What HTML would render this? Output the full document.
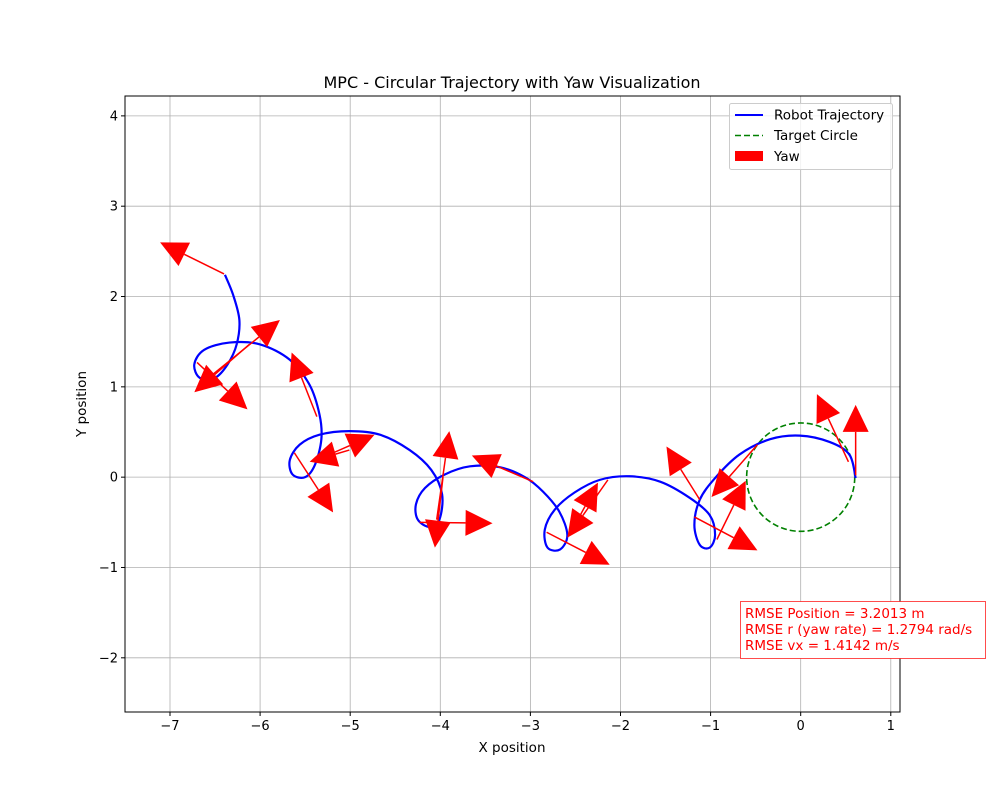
<!DOCTYPE html>
<html><head><meta charset="utf-8"><style>
body{margin:0;background:#fff;font-family:"DejaVu Sans","Liberation Sans",sans-serif;}
svg text{font-family:"DejaVu Sans","Liberation Sans",sans-serif;}
</style></head><body>
<svg id="chart" width="1000" height="800" viewBox="0 0 1000 800" xmlns="http://www.w3.org/2000/svg">
<rect width="1000" height="800" fill="#fff"/>
<g id="grid"></g>
<g id="series"></g>
<g id="axes"></g>
<text x="512" y="88" text-anchor="middle" font-size="16">MPC - Circular Trajectory with Yaw Visualization</text>
<text x="512" y="752" text-anchor="middle" font-size="13.5">X position</text>
<text x="86" y="404" text-anchor="middle" font-size="13.5" transform="rotate(-90 86 404)">Y position</text>
<g>
<rect x="729.5" y="103.5" width="163" height="66" rx="2" fill="#fff" fill-opacity="0.8" stroke="#ccc"/>
<g><line x1="735" y1="115" x2="763" y2="115" stroke="#0000ff" stroke-width="2"/><text x="774" y="119.5" font-size="13.5">Robot Trajectory</text></g>
<g><line x1="735" y1="135.5" x2="763" y2="135.5" stroke="#008000" stroke-width="1.6" stroke-dasharray="6,3"/><text x="774" y="140" font-size="13.5">Target Circle</text></g>
<g><rect x="735" y="151" width="28" height="10" fill="#ff0000"/><text x="774" y="161" font-size="13.5">Yaw</text></g>
</g>
<g>
<rect x="740.5" y="601.5" width="245" height="57" fill="#fff" stroke="#ff0000" stroke-opacity="0.7"/>
<text x="745" y="618" font-size="13.5" fill="#ff0000">RMSE Position = 3.2013 m</text>
<text x="745" y="634" font-size="13.5" fill="#ff0000">RMSE r (yaw rate) = 1.2794 rad/s</text>
<text x="745" y="650" font-size="13.5" fill="#ff0000">RMSE vx = 1.4142 m/s</text>
</g>
</svg>
<script>
const xTicks=[-7,-6,-5,-4,-3,-2,-1,0,1];
const yTicks=[-2,-1,0,1,2,3,4];
const trajX=[-6.39,-6.30,-6.23,-6.26,-6.36,-6.50,-6.67,-6.73,-6.62,-6.34,-6.00,-5.67,-5.45,-5.34,-5.32,-5.39,-5.50,-5.64,-5.67,-5.56,-5.34,-5.01,-4.67,-4.34,-4.10,-3.98,-4.01,-4.12,-4.25,-4.27,-4.17,-3.95,-3.67,-3.34,-3.06,-2.86,-2.68,-2.59,-2.67,-2.81,-2.84,-2.73,-2.51,-2.23,-1.90,-1.56,-1.23,-1.01,-0.95,-1.01,-1.12,-1.18,-1.12,-0.95,-0.68,-0.34,-0.01,0.32,0.54,0.61];
const trajY=[2.24,2.02,1.74,1.47,1.25,1.10,1.10,1.25,1.41,1.49,1.47,1.30,1.02,0.69,0.42,0.14,0.00,0.03,0.19,0.36,0.47,0.51,0.47,0.30,0.08,-0.19,-0.47,-0.55,-0.47,-0.30,-0.12,0.03,0.12,0.11,0.00,-0.16,-0.38,-0.64,-0.80,-0.78,-0.58,-0.36,-0.17,-0.03,0.01,-0.05,-0.23,-0.42,-0.64,-0.78,-0.75,-0.53,-0.25,-0.01,0.25,0.42,0.46,0.39,0.25,-0.01];
const yawX=[-6.40,-6.56,-6.12,-6.70,-5.37,-5.62,-5.01,-5.37,-4.04,-3.97,-4.23,-2.97,-2.14,-2.49,-2.82,-1.12,-0.48,-0.93,-1.18,0.53,0.61];
const yawY=[2.25,1.11,1.47,1.27,0.67,0.27,0.30,0.19,-0.47,0.0,-0.50,-0.05,-0.03,-0.50,-0.61,-0.25,0.36,-0.69,-0.44,0.17,0.02];
const yawDX=[-0.71,0.78,-0.61,0.56,-0.28,0.43,-0.44,0.64,0.14,-0.09,0.81,-0.68,-0.45,0.24,0.70,-0.37,-0.51,0.32,0.70,-0.35,0];
const yawDY=[0.35,0.63,-0.53,-0.52,0.71,-0.66,-0.13,0.28,0.98,-0.78,-0.01,0.29,-0.64,0.44,-0.36,0.59,-0.58,0.65,-0.37,0.75,0.78];
const circleR=0.6;
const X0=125,X1=900,Y0=96,Y1=712,xmin=-7.4994,xmax=1.1022,ymin=-2.6,ymax=4.22;
const sx=v=>X0+(v-xmin)/(xmax-xmin)*(X1-X0);
const sy=v=>Y1-(v-ymin)/(ymax-ymin)*(Y1-Y0);
const NS="http://www.w3.org/2000/svg";
function mk(tag,attrs,parent){const e=document.createElementNS(NS,tag);for(const k in attrs)e.setAttribute(k,attrs[k]);parent.appendChild(e);return e;}
const grid=document.getElementById('grid'),axes=document.getElementById('axes'),series=document.getElementById('series');
xTicks.forEach(t=>{const x=sx(t);
 const g=mk('line',{x1:x,x2:x,y1:Y0,y2:Y1,stroke:'#b0b0b0','stroke-width':0.8},grid);
 
 
 mk('line',{x1:x,x2:x,y1:Y1,y2:Y1+4,stroke:'#000'},axes);
 const tx=mk('text',{x:x,y:Y1+18,'text-anchor':'middle','font-size':13},axes);tx.textContent=t<0?'\u2212'+(-t):t;
 
 });
yTicks.forEach(t=>{const y=sy(t);
 const g=mk('line',{x1:X0,x2:X1,y1:y,y2:y,stroke:'#b0b0b0','stroke-width':0.8},grid);
 
 
 mk('line',{x1:X0-4,x2:X0,y1:y,y2:y,stroke:'#000'},axes);
 const tx=mk('text',{x:X0-7,y:y+4.5,'text-anchor':'end','font-size':13},axes);tx.textContent=t<0?'\u2212'+(-t):t;
 
 });
const fr=mk('rect',{x:X0,y:Y0,width:X1-X0,height:Y1-Y0,fill:'none',stroke:'#000','stroke-width':1},axes);


const circ=mk('ellipse',{cx:sx(0),cy:sy(0),rx:sx(circleR)-sx(0),ry:sy(0)-sy(circleR),fill:'none',stroke:'#008000','stroke-width':1.6,'stroke-dasharray':'6,3'},series);


const P=trajX.map((v,i)=>[sx(v),sy(trajY[i])]);
let d='M'+P[0][0]+','+P[0][1];
for(let i=0;i<P.length-1;i++){const p0=P[Math.max(i-1,0)],p1=P[i],p2=P[i+1],p3=P[Math.min(i+2,P.length-1)];
 d+=' C'+(p1[0]+(p2[0]-p0[0])/6)+','+(p1[1]+(p2[1]-p0[1])/6)+' '+(p2[0]-(p3[0]-p1[0])/6)+','+(p2[1]-(p3[1]-p1[1])/6)+' '+p2[0]+','+p2[1];}
const tr=mk('path',{d:d,fill:'none',stroke:'#0000ff','stroke-width':2.2,'stroke-linejoin':'round'},series);


yawX.forEach((v,i)=>{const x1=sx(v),y1=sy(yawY[i]),x2=sx(v+yawDX[i]),y2=sy(yawY[i]+yawDY[i]);
 const L=Math.hypot(x2-x1,y2-y1),ux=(x2-x1)/L,uy=(y2-y1)/L,hl=27,hw=13;
 const bx=x2-ux*hl,by=y2-uy*hl;
 const g=mk('g',{},series);
 
 
 mk('line',{x1:x1,y1:y1,x2:bx,y2:by,stroke:'#ff0000','stroke-width':1.5},g);
 mk('polygon',{points:`${x2},${y2} ${bx-uy*hw},${by+ux*hw} ${bx+uy*hw},${by-ux*hw}`,fill:'#ff0000'},g);});
</script>
</body></html>
